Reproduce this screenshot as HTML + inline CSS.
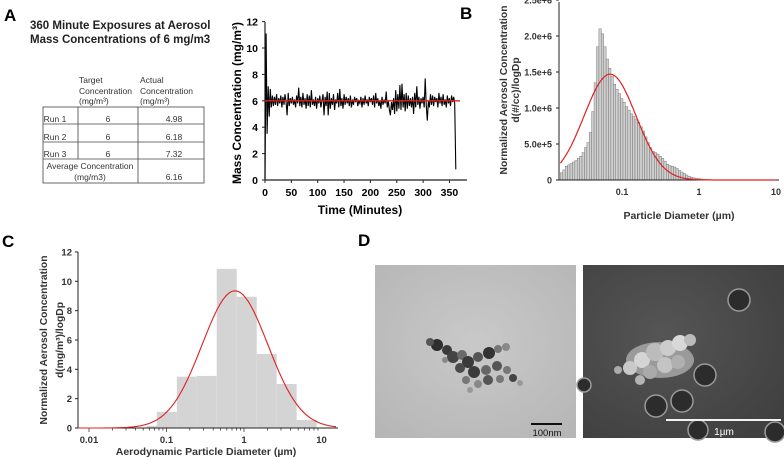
<!DOCTYPE html>
<html><head><meta charset="utf-8">
<style>
html,body{margin:0;padding:0;background:#fff;}
svg{display:block;font-family:"Liberation Sans",Arial,sans-serif;}
.b{font-weight:bold;}
.tbl{font-family:"Liberation Sans",sans-serif;font-size:8.5px;fill:#333;}
</style></head>
<body>
<svg id="fig" width="784" height="457" viewBox="0 0 784 457" xmlns="http://www.w3.org/2000/svg">
<!-- Panel A -->
<g>
<text x="4" y="21" class="b" font-size="17">A</text>
<text x="30" y="29" class="b" font-size="11.5" fill="#222">360 Minute Exposures at Aerosol</text>
<text x="30" y="43" class="b" font-size="11.5" fill="#222">Mass Concentrations of 6 mg/m3</text>
<g>
<text x="79" y="83" class="tbl">Target</text>
<text x="79" y="94" class="tbl">Concentration</text>
<text x="79" y="104" class="tbl">(mg/m³)</text>
<text x="140" y="83" class="tbl">Actual</text>
<text x="140" y="94" class="tbl">Concentration</text>
<text x="140" y="104" class="tbl">(mg/m³)</text>
<g stroke="#444" stroke-width="0.8" fill="none">
<rect x="43" y="107" width="161" height="76"/>
<line x1="43" y1="124" x2="204" y2="124"/><line x1="43" y1="142" x2="204" y2="142"/><line x1="43" y1="159" x2="204" y2="159"/>
<line x1="78" y1="107" x2="78" y2="159"/><line x1="138" y1="107" x2="138" y2="183"/>
</g>
<text x="55" y="122" class="tbl" text-anchor="middle">Run 1</text>
<text x="108" y="122" class="tbl" text-anchor="middle">6</text>
<text x="174" y="122" class="tbl" text-anchor="middle">4.98</text>
<text x="55" y="140" class="tbl" text-anchor="middle">Run 2</text>
<text x="108" y="140" class="tbl" text-anchor="middle">6</text>
<text x="174" y="140" class="tbl" text-anchor="middle">6.18</text>
<text x="55" y="157" class="tbl" text-anchor="middle">Run 3</text>
<text x="108" y="157" class="tbl" text-anchor="middle">6</text>
<text x="174" y="157" class="tbl" text-anchor="middle">7.32</text>
<text x="90" y="169" class="tbl" text-anchor="middle">Average Concentration</text>
<text x="90" y="180" class="tbl" text-anchor="middle">(mg/m3)</text>
<text x="174" y="180" class="tbl" text-anchor="middle">6.16</text>
</g>
<g id="chartA"></g>
<text transform="translate(241,103) rotate(-90)" text-anchor="middle" class="b" font-size="12">Mass Concentration (mg/m³)</text>
<text x="360" y="214" text-anchor="middle" class="b" font-size="12">Time (Minutes)</text>
</g>
<!-- Panel B -->
<g>
<text x="460" y="19" class="b" font-size="17">B</text>
<g id="chartB"></g>
<text transform="translate(507,90) rotate(-90)" text-anchor="middle" class="b" font-size="10.3" fill="#333">Normalized Aerosol Concentration</text>
<text transform="translate(519,90) rotate(-90)" text-anchor="middle" class="b" font-size="10.3" fill="#333">d(#/cc)/logDp</text>
<text x="679" y="219" text-anchor="middle" class="b" font-size="10.5" fill="#333">Particle Diameter (µm)</text>
</g>
<!-- Panel C -->
<g>
<text x="2" y="247" class="b" font-size="17">C</text>
<g id="chartC"></g>
<text transform="translate(47,340) rotate(-90)" text-anchor="middle" class="b" font-size="10.3" fill="#333">Normalized Aerosol Concentration</text>
<text transform="translate(63,340) rotate(-90)" text-anchor="middle" class="b" font-size="10.3" fill="#333">d(mg/m³)/logDp</text>
<text x="206" y="455" text-anchor="middle" class="b" font-size="10.5" fill="#333">Aerodynamic Particle Diameter (µm)</text>
</g>
<!-- Panel D -->
<g>
<text x="358" y="246" class="b" font-size="17">D</text>
<defs>
<radialGradient id="temg" cx="50%" cy="45%" r="70%"><stop offset="0" stop-color="#c9c9c9"/><stop offset="1" stop-color="#b6b6b6"/></radialGradient>
<radialGradient id="semg" cx="40%" cy="40%" r="80%"><stop offset="0" stop-color="#555"/><stop offset="1" stop-color="#3e3e3e"/></radialGradient>
</defs>
<g>
<rect x="375" y="265" width="201" height="173" fill="url(#temg)"/>
<g fill="#6a6a6a">
<circle cx="437" cy="345" r="6" fill="#2e2e2e"/><circle cx="430" cy="342" r="4" fill="#555"/>
<circle cx="447" cy="350" r="5" fill="#3a3a3a"/><circle cx="453" cy="357" r="6" fill="#444"/>
<circle cx="462" cy="355" r="5"/><circle cx="468" cy="362" r="6" fill="#3a3a3a"/>
<circle cx="478" cy="357" r="5" fill="#555"/><circle cx="489" cy="353" r="6" fill="#333"/>
<circle cx="498" cy="349" r="4" fill="#777"/><circle cx="506" cy="347" r="4" fill="#888"/>
<circle cx="460" cy="368" r="5" fill="#4a4a4a"/><circle cx="474" cy="372" r="6" fill="#3c3c3c"/>
<circle cx="486" cy="370" r="5" fill="#666"/><circle cx="497" cy="366" r="5" fill="#555"/>
<circle cx="507" cy="370" r="4" fill="#777"/><circle cx="513" cy="378" r="4" fill="#444"/>
<circle cx="520" cy="383" r="3" fill="#999"/><circle cx="466" cy="380" r="4" fill="#777"/>
<circle cx="478" cy="384" r="4" fill="#888"/><circle cx="488" cy="380" r="5" fill="#555"/>
<circle cx="500" cy="379" r="4" fill="#777"/><circle cx="445" cy="360" r="3" fill="#888"/>
<circle cx="470" cy="390" r="3" fill="#999"/>
</g>
<rect x="531" y="423" width="31" height="2" fill="#111"/>
<text x="547" y="436" text-anchor="middle" font-size="9.5" fill="#111">100nm</text>
</g>
<g>
<rect x="583" y="265" width="201" height="173" fill="url(#semg)"/>
<g fill="#2c2c2c" stroke="#9a9a9a" stroke-width="1.5">
<circle cx="739" cy="300" r="11"/><circle cx="705" cy="375" r="11"/>
<circle cx="682" cy="401" r="11"/><circle cx="656" cy="406" r="11"/>
<circle cx="698" cy="430" r="10"/><circle cx="775" cy="432" r="10"/>
<circle cx="584" cy="385" r="7"/>
</g>
<g fill="#bdbdbd">
<ellipse cx="660" cy="360" rx="34" ry="18" fill="#9a9a9a"/>
<circle cx="630" cy="368" r="7" fill="#c9c9c9"/><circle cx="642" cy="360" r="8" fill="#d4d4d4"/>
<circle cx="655" cy="352" r="9" fill="#bcbcbc"/><circle cx="668" cy="348" r="8" fill="#ccc"/>
<circle cx="680" cy="343" r="8" fill="#d8d8d8"/><circle cx="690" cy="340" r="6" fill="#bbb"/>
<circle cx="650" cy="372" r="7" fill="#aaa"/><circle cx="665" cy="365" r="8" fill="#c4c4c4"/>
<circle cx="678" cy="362" r="7" fill="#b0b0b0"/><circle cx="618" cy="370" r="4" fill="#aaa"/>
<circle cx="640" cy="380" r="5" fill="#b4b4b4"/>
</g>
<rect x="666" y="419" width="115" height="2" fill="#f2f2f2"/>
<text x="724" y="435" text-anchor="middle" font-size="10" fill="#fff">1µm</text>
</g>
</g>
</svg>
<script>
// ---------- Panel A data ----------
const aTimes = [0,2,4,6,8,10,12,14,16,18,20,22,24,26,28,30,32,34,36,38,40,42,44,46,48,50,52,54,56,58,60,62,64,66,68,70,72,74,76,78,80,82,84,86,88,90,92,94,96,98,100,102,104,106,108,110,112,114,116,118,120,122,124,126,128,130,132,134,136,138,140,142,144,146,148,150,152,154,156,158,160,162,164,166,168,170,172,174,176,178,180,182,184,186,188,190,192,194,196,198,200,202,204,206,208,210,212,214,216,218,220,222,224,226,228,230,232,234,236,238,240,242,244,246,248,250,252,254,256,258,260,262,264,266,268,270,272,274,276,278,280,282,284,286,288,290,292,294,296,298,300,302,304,306,308,310,312,314,316,318,320,322,324,326,328,330,332,334,336,338,340,342,344,346,348,350,352,354,356,358,360,362];
const aConc = [0.1,11.1,3.5,7.1,4.8,6.9,5.5,6.4,5.6,6.3,5.7,6.5,5.6,6.2,5.8,6.4,5.5,6.3,5.7,6.5,5.9,4.9,6.6,5.6,6.2,5.8,6.3,5.7,6.1,5.5,6.4,5.8,7.0,5.6,6.3,5.5,6.6,5.7,6.2,5.4,6.5,5.6,6.4,5.5,6.8,5.7,6.1,5.6,6.3,5.4,6.2,5.8,6.4,5.5,6.0,6.5,4.9,6.3,5.6,6.7,4.9,6.6,5.4,6.2,5.7,6.5,5.3,6.1,5.8,6.6,5.5,6.9,5.6,6.2,5.4,6.5,5.7,6.3,5.8,6.2,5.6,6.4,5.5,6.1,5.7,6.3,5.9,6.2,5.6,6.0,5.8,6.3,5.5,6.2,5.7,6.4,5.8,6.1,5.6,6.3,5.9,6.2,5.7,6.4,5.5,6.6,5.8,6.2,5.6,6.0,5.4,6.3,5.7,6.1,5.8,6.7,5.5,6.0,5.3,4.9,5.9,5.3,6.2,5.0,6.8,5.2,6.5,5.4,7.2,5.3,7.3,5.5,6.5,5.2,6.6,5.4,6.4,5.6,6.2,5.5,6.3,5.0,6.6,5.5,7.1,5.7,6.3,5.4,6.2,5.8,6.3,5.5,7.7,5.6,4.5,6.0,5.5,6.5,5.7,6.4,5.6,6.3,5.9,6.2,5.5,6.6,5.8,6.3,5.6,6.5,5.7,6.1,5.5,6.4,5.8,6.2,5.6,6.4,5.9,6.3,5.8,0.8];
const aTarget = [6];
const aXTicks = [0,50,100,150,200,250,300,350];
const aYTicks = [0,2,4,6,8,10,12];
// ---------- Panel B data ----------
const bBinStartLog = [-1.8];          // log10 of first bin left edge (µm)
const bBinsPerDecade = [32];
const bHeights = [0.10,0.14,0.19,0.21,0.23,0.25,0.27,0.30,0.33,0.38,0.45,0.52,0.66,0.95,1.35,1.85,2.10,2.03,1.85,1.68,1.55,1.44,1.33,1.26,1.20,1.13,1.08,1.02,0.97,0.92,0.88,0.84,0.80,0.74,0.68,0.60,0.52,0.45,0.40,0.38,0.36,0.33,0.30,0.26,0.22,0.20,0.19,0.18,0.16,0.13,0.11,0.09,0.07,0.05,0.04,0.03,0.025,0.02,0.015,0.01,0.008,0.006,0.004,0.003]; // ×1e6
const bFit = [1.47, 0.070, 0.337]; // peak (×1e6), mode µm, sigma (decades)
const bXTicks = [0.1,1,10];
const bXTickLabels = ["0.1","1","10"];
const bYTicks = [0,0.5,1.0,1.5,2.0,2.5];
const bYTickLabels = ["0","5.0e+5","1.0e+6","1.5e+6","2.0e+6","2.5e+6"];
// ---------- Panel C data ----------
const cEdges = [0.056,0.075,0.136,0.246,0.445,0.806,1.46,2.64,4.78,8.65];
const cHeights = [0.15,1.1,3.5,3.55,10.85,8.95,5.05,3.0,0.55];
const cFit = [9.35, 0.765, 0.425];
const cXTicks = [0.01,0.1,1,10];
const cXTickLabels = ["0.01","0.1","1","10"];
const cYTicks = [0,2,4,6,8,10,12];

const NS = "http://www.w3.org/2000/svg";
function mk(parent, tag, attrs){ const e=document.createElementNS(NS,tag); for(const k in attrs) e.setAttribute(k,attrs[k]); parent.appendChild(e); return e; }

// ---- Chart A ----
(function(){
  const g=document.getElementById('chartA');
  const x=t=>265+t*26.35/50, y=v=>180-v*13.2;
  let e=mk(g,'line',{x1:265,y1:22,x2:265,y2:180,stroke:'#222','stroke-width':1.2});
  
  
  e=mk(g,'line',{x1:265,y1:180,x2:467,y2:180,stroke:'#222','stroke-width':1.2});
  
  
  aYTicks.forEach(v=>{
    mk(g,'line',{x1:262,y1:y(v),x2:265,y2:y(v),stroke:'#222'});
    const t=mk(g,'text',{x:258,y:y(v)+4,'text-anchor':'end','font-size':10.5,'font-weight':'bold'});
    t.textContent=v;
    
    
  });
  aXTicks.forEach(v=>{
    mk(g,'line',{x1:x(v),y1:180,x2:x(v),y2:183,stroke:'#222'});
    const t=mk(g,'text',{x:x(v),y:196,'text-anchor':'middle','font-size':10.5,'font-weight':'bold'});
    t.textContent=v;
    
    
  });
  const pts=aTimes.map((t,i)=>x(t).toFixed(1)+','+y(aConc[i]).toFixed(1)).join(' ');
  e=mk(g,'polyline',{points:pts,fill:'none',stroke:'#000','stroke-width':1.1});
  
  
  e=mk(g,'line',{x1:x(0),y1:y(aTarget[0]),x2:x(370),y2:y(aTarget[0]),stroke:'#e02020','stroke-width':1.3});
  
  
})();

// ---- Chart B ----
(function(){
  const g=document.getElementById('chartB');
  const x=d=>699+77*Math.log10(d), xl=l=>699+77*l, y=v=>180-v*72;
  const w=77/bBinsPerDecade[0];
  bHeights.forEach((h,i)=>{
    const l=bBinStartLog[0]+i/bBinsPerDecade[0];
    const r=mk(g,'rect',{x:xl(l),y:y(h),width:w,height:180-y(h),fill:'#cfcfcf',stroke:'#7a7a7a','stroke-width':0.5});
    
    
  });
  let e=mk(g,'line',{x1:559,y1:2,x2:559,y2:180,stroke:'#222','stroke-width':1});
  
  
  e=mk(g,'line',{x1:559,y1:180,x2:779,y2:180,stroke:'#222','stroke-width':1});
  
  
  bYTicks.forEach((v,i)=>{
    mk(g,'line',{x1:556,y1:y(v),x2:559,y2:y(v),stroke:'#222'});
    const t=mk(g,'text',{x:552,y:y(v)+3.5,'text-anchor':'end','font-size':9,'font-weight':'bold',fill:'#333'});
    t.textContent=bYTickLabels[i];
    
    
  });
  bXTicks.forEach((v,i)=>{
    const t=mk(g,'text',{x:x(v),y:195,'text-anchor':'middle','font-size':9,'font-weight':'bold',fill:'#333'});
    t.textContent=bXTickLabels[i];
    
    
  });
  const pk=bFit[0], lm=Math.log10(bFit[1]), s=bFit[2];
  let pts=[];
  for(let l=bBinStartLog[0]; l<=1.0001; l+=0.01){ const v=pk*Math.exp(-Math.pow(l-lm,2)/(2*s*s)); pts.push(xl(l).toFixed(1)+','+y(v).toFixed(1)); }
  e=mk(g,'polyline',{points:pts.join(' '),fill:'none',stroke:'#e02020','stroke-width':1.2});
  
  
})();

// ---- Chart C ----
(function(){
  const g=document.getElementById('chartC');
  const x=d=>244+77.5*Math.log10(d), y=v=>428-v*14.67;
  cHeights.forEach((h,i)=>{
    const r=mk(g,'rect',{x:x(cEdges[i]),y:y(h),width:x(cEdges[i+1])-x(cEdges[i]),height:428-y(h),fill:'#d4d4d4'});
    
    
  });
  let e=mk(g,'line',{x1:78,y1:252,x2:78,y2:428,stroke:'#222','stroke-width':1});
  
  
  e=mk(g,'line',{x1:78,y1:428,x2:338,y2:428,stroke:'#222','stroke-width':1});
  
  
  cYTicks.forEach(v=>{
    mk(g,'line',{x1:75,y1:y(v),x2:78,y2:y(v),stroke:'#222'});
    const t=mk(g,'text',{x:72,y:y(v)+3.5,'text-anchor':'end','font-size':9.5,'font-weight':'bold',fill:'#333'});
    t.textContent=v;
    
    
  });
  for(let dec=0.01; dec<10; dec*=10){
    for(let m=1;m<10;m++){ const px=x(dec*m); if(px<78) continue; mk(g,'line',{x1:px,y1:428,x2:px,y2:m===1?432:430.5,stroke:'#222','stroke-width':0.7}); }
  }
  cXTicks.forEach((v,i)=>{
    const t=mk(g,'text',{x:x(v),y:443,'text-anchor':'middle','font-size':9.5,'font-weight':'bold',fill:'#333'});
    t.textContent=cXTickLabels[i];
    
    
  });
  const pk=cFit[0], lm=Math.log10(cFit[1]), s=cFit[2];
  let pts=[];
  for(let px=78; px<=336; px+=1){ const l=(px-244)/77.5; const v=pk*Math.exp(-Math.pow(l-lm,2)/(2*s*s)); pts.push(px+','+y(v).toFixed(1)); }
  e=mk(g,'polyline',{points:pts.join(' '),fill:'none',stroke:'#e02020','stroke-width':1.1});
  
  
})();
</script>
</body></html>
